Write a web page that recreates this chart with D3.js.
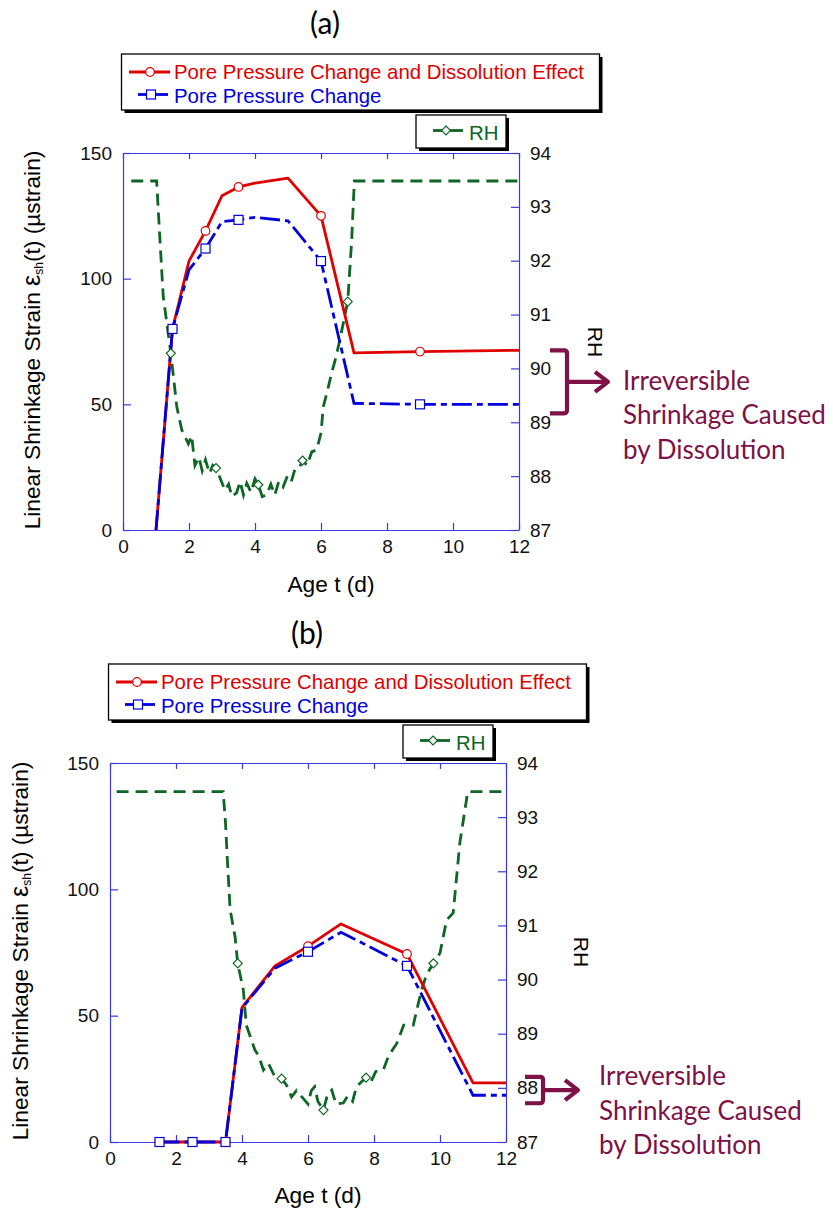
<!DOCTYPE html>
<html>
<head>
<meta charset="utf-8">
<script src="https://cdn.jsdelivr.net/npm/d3@7"></script>
<style>
  body{ margin:0; background:#fff; }
  svg text{ font-family:"Liberation Sans", Arial, sans-serif; }
  .axis path, .axis line{ stroke:#3a3ae0; stroke-width:1.2; }
  .axis text{ fill:#111; font-size:19px; }
  .note{ font-family:Lato, "Open Sans", sans-serif !important; fill:#7e1146; font-size:26px; }
</style>
</head>
<body>
<svg id="chart" width="833" height="1212"></svg>
<script>
// ticks shared by both panels
const ageTicks = [0, 2, 4, 6, 8, 10, 12];
const strainTicks = [0, 50, 100, 150];
const rhTicks = [87, 88, 89, 90, 91, 92, 93, 94];
const seriesNames = ["Pore Pressure Change and Dissolution Effect", "Pore Pressure Change", "RH"];
const noteLines = ["Irreversible", "Shrinkage Caused", "by Dissolution"];

// panel (a)  [age (d), value]
const aDissolution = [[1,0],[1.5,80],[2,107],[2.5,119],[3,133],[3.5,136.5],[4,138],[5,140],[6,125],[7,70.5],[9,71],[12,71.5]];
const aPressure = [[1,0],[1.5,80],[2,103.5],[2.5,112],[3,122.7],[3.5,123.4],[4,124.4],[5,123],[6,107],[7,50.4],[9,50],[12,50]];
const aRH = [[0.25,93.48],[1.02,93.48],[1.12,92.38],[1.22,91.33],[1.37,90.65],[1.45,90.28],[1.63,89.29],[1.78,88.86],[1.98,88.6],
  [2.08,88.75],[2.18,88.2],[2.3,88.35],[2.4,88.1],[2.5,88.3],[2.62,88.05],[2.72,88.2],[2.82,88.15],[2.95,87.95],[3.09,87.74],
  [3.2,87.85],[3.3,87.62],[3.44,87.69],[3.55,87.9],[3.65,87.65],[3.75,87.87],[3.88,87.7],[4.0,87.95],[4.1,87.84],[4.22,87.62],
  [4.35,87.65],[4.48,87.85],[4.6,87.65],[4.72,87.9],[4.85,87.8],[4.98,88.0],[5.1,87.9],[5.22,88.15],[5.36,88.18],[5.44,88.29],
  [5.58,88.2],[5.72,88.45],[5.87,88.49],[6.0,88.8],[6.07,89.29],[6.2,89.6],[6.32,89.91],[6.45,90.2],[6.57,90.53],[6.81,91.24],
  [6.93,92.38],[7.01,93.48],[12,93.48]];
const aDissolutionMarks = [1.5, 2.5, 3.5, 6, 9];
const aPressureMarks = [1.5, 2.5, 3.5, 6, 9];
const aRHMarks = [1.45, 2.82, 4.1, 5.44, 6.81];

// panel (b)
const bDissolution = [[1.5,0],[2.5,0],[3.5,0],[4,53.3],[5,69.7],[6,77.5],[7,86.3],[9,74.4],[11,23.4],[12,23.4]];
const bPressure = [[1.5,0],[2.5,0],[3.5,0],[4,53],[5,68.8],[6,75.3],[7,83],[9,69.7],[11,18.5],[12,18.5]];
const bRH = [[0.2,93.47],[3.43,93.47],[3.5,92.9],[3.54,92.4],[3.64,91.29],[3.79,90.79],[3.87,90.3],[4.04,89.81],[4.13,89.16],
  [4.39,88.7],[4.5,88.6],[4.65,88.33],[4.8,88.45],[5.0,88.2],[5.2,88.17],[5.35,88.05],[5.5,87.83],[5.65,87.95],[5.86,87.8],
  [6.0,87.7],[6.1,87.95],[6.2,88.02],[6.3,87.75],[6.47,87.59],[6.6,87.9],[6.72,87.96],[6.85,87.7],[7.07,87.72],[7.2,87.85],
  [7.35,87.75],[7.47,88.02],[7.6,88.1],[7.76,88.19],[7.9,88.1],[8.05,88.3],[8.28,88.33],[8.45,88.6],[8.69,88.82],[8.9,89.16],
  [9.19,89.16],[9.44,89.81],[9.6,90.1],[9.8,90.3],[10.0,90.49],[10.2,91.1],[10.4,91.23],[10.6,92.52],[10.84,93.47],[12,93.47]];
const bDissolutionMarks = [1.5, 2.5, 3.5, 6, 9];
const bPressureMarks = [1.5, 2.5, 3.5, 6, 9];
const bRHMarks = [3.87, 5.2, 6.47, 7.76, 9.8];

const RED = "#e00000", BLUE = "#0000dd", GREEN = "#0d6623", NOTE = "#7e1146";
const svg = d3.select("#chart");

function marker(g, kind, x, y, color){
  if(kind === "circle") g.append("circle").attr("cx", x).attr("cy", y).attr("r", 4.3);
  else if(kind === "square") g.append("rect").attr("x", x-4.5).attr("y", y-4.5).attr("width", 9).attr("height", 9);
  else g.append("path").attr("d", `M${x},${y-4.5}L${x+4.5},${y}L${x},${y+4.5}L${x-4.5},${y}Z`);
  g.selectAll(":last-child").attr("fill", "#fff").attr("stroke", color).attr("stroke-width", 1.2);
}

function drawPanel(p){
  const x = d3.scaleLinear().domain([0,12]).range([p.x0, p.x1]);
  const yL = d3.scaleLinear().domain([0,150]).range([p.y1, p.y0]);
  const yR = d3.scaleLinear().domain([87,94]).range([p.y1, p.y0]);
  const g = svg.append("g");

  // title
  g.append("text").attr("x", p.titleX).attr("y", p.titleY).attr("text-anchor", "middle")
    .style("font-family", "Lato, 'Open Sans', sans-serif").style("font-size", "30px").text(p.title);

  // legend boxes (with drop shadow)
  const legend = (bx, by, bw, bh) => {
    g.append("rect").attr("x", bx+3).attr("y", by+3).attr("width", bw).attr("height", bh).attr("fill", "#000");
    g.append("rect").attr("x", bx).attr("y", by).attr("width", bw).attr("height", bh)
      .attr("fill", "#fff").attr("stroke", "#000").attr("stroke-width", 1.3);
  };
  legend(p.x0-1.5, p.y0-99, 478, 56);
  legend(p.x0+293, p.y0-38, 90, 33);
  const lg = g.append("g").style("font-size", "20.4px");
  lg.append("line").attr("x1", p.x0+6).attr("x2", p.x0+47).attr("y1", p.y0-81).attr("y2", p.y0-81)
    .attr("stroke", RED).attr("stroke-width", 2.8);
  marker(lg, "circle", p.x0+27, p.y0-81, RED);
  lg.append("text").attr("x", p.x0+51).attr("y", p.y0-74).attr("fill", RED).text(seriesNames[0]);
  lg.append("line").attr("x1", p.x0+15).attr("x2", p.x0+45).attr("y1", p.y0-58.5).attr("y2", p.y0-58.5)
    .attr("stroke", BLUE).attr("stroke-width", 2.8);
  marker(lg, "square", p.x0+28, p.y0-58.5, BLUE);
  lg.append("text").attr("x", p.x0+51).attr("y", p.y0-50.5).attr("fill", BLUE).text(seriesNames[1]);
  lg.append("line").attr("x1", p.x0+310).attr("x2", p.x0+340).attr("y1", p.y0-22.5).attr("y2", p.y0-22.5)
    .attr("stroke", GREEN).attr("stroke-width", 2.8);
  marker(lg, "diamond", p.x0+323, p.y0-22.5, GREEN);
  lg.append("text").attr("x", p.x0+346).attr("y", p.y0-13.5).attr("fill", GREEN).text(seriesNames[2]);

  // axes (inward ticks on all four sides)
  g.append("g").attr("class", "axis").attr("transform", `translate(0,${p.y1})`)
    .call(d3.axisBottom(x).tickValues(ageTicks).tickSize(-7).tickSizeOuter(0).tickPadding(10));
  g.append("g").attr("class", "axis").attr("transform", `translate(0,${p.y0})`)
    .call(d3.axisTop(x).tickValues(ageTicks).tickSize(-6).tickSizeOuter(0).tickFormat(""));
  g.append("g").attr("class", "axis").attr("transform", `translate(${p.x0},0)`)
    .call(d3.axisLeft(yL).tickValues(strainTicks).tickSize(-8).tickSizeOuter(0).tickPadding(11));
  g.append("g").attr("class", "axis").attr("transform", `translate(${p.x1},0)`)
    .call(d3.axisRight(yR).tickValues(rhTicks).tickSize(-8).tickSizeOuter(0).tickPadding(11).tickFormat(d3.format("d")));
  g.selectAll(".axis .domain").attr("stroke", "#3a3ae0");

  // axis titles
  g.append("text").attr("x", p.xLabel[0]).attr("y", p.xLabel[1]).attr("text-anchor", "middle")
    .style("font-size", "22.7px").text("Age t (d)");
  const yt = g.append("text").attr("transform", `translate(${p.yLabel[0]},${p.yLabel[1]}) rotate(-90)`)
    .attr("text-anchor", "middle").attr("dy", "0.35em").style("font-size", "22.7px");
  yt.append("tspan").text("Linear Shrinkage Strain ");
  yt.append("tspan").text("ε").style("font-size", "25px");
  yt.append("tspan").text("sh").style("font-size", "12px").attr("dy", "3");
  yt.append("tspan").text("(t) (µstrain)").attr("dy", "-3");
  g.append("text").attr("transform", `translate(${p.rhLabel[0]},${p.rhLabel[1]}) rotate(90)`)
    .attr("text-anchor", "middle").attr("dy", "0.35em").style("font-size", "21px").text("RH");

  // series
  const lineL = d3.line().x(d => x(d[0])).y(d => yL(d[1]));
  const lineR = d3.line().x(d => x(d[0])).y(d => yR(d[1]));
  g.append("path").datum(p.rh).attr("d", lineR).attr("fill", "none").attr("stroke", GREEN)
    .attr("stroke-width", 2.8).attr("stroke-dasharray", "12,7");
  g.append("path").datum(p.dissolution).attr("d", lineL).attr("fill", "none").attr("stroke", RED)
    .attr("stroke-width", 2.8).attr("stroke-linejoin", "round");
  g.append("path").datum(p.pressure).attr("d", lineL).attr("fill", "none").attr("stroke", BLUE)
    .attr("stroke-width", 2.8).attr("stroke-dasharray", "20,5,6,5");

  const mg = g.append("g");
  p.rhMarks.forEach(t => { const d = p.rh.find(v => v[0] === t); marker(mg, "diamond", x(d[0]), yR(d[1]), GREEN); });
  p.dissolutionMarks.forEach(t => { const d = p.dissolution.find(v => v[0] === t); marker(mg, "circle", x(d[0]), yL(d[1]), RED); });
  p.pressureMarks.forEach(t => { const d = p.pressure.find(v => v[0] === t); marker(mg, "square", x(d[0]), yL(d[1]), BLUE); });

  // annotation bracket + arrow, anchored on the end values of both curves
  const top = yL(p.dissolution[p.dissolution.length-1][1]) - p.bracketPad[0];
  const bot = yL(p.pressure[p.pressure.length-1][1]) + p.bracketPad[1];
  const mid = (top + bot) / 2;
  const bl = p.x1 + p.bracketX[0], br = p.x1 + p.bracketX[1], tip = p.x1 + p.bracketX[2];
  const ag = g.append("g").attr("fill", "none").attr("stroke", NOTE).attr("stroke-width", 4.2)
    .attr("stroke-linejoin", "round");
  ag.append("path").attr("d", `M${bl},${top}L${br-3},${top}Q${br},${top} ${br},${top+3}L${br},${bot-3}Q${br},${bot} ${br-3},${bot}L${bl},${bot}`);
  ag.append("path").attr("d", `M${br},${mid}L${tip-2},${mid}`);
  ag.append("path").attr("d", `M${tip-13},${mid-10}L${tip},${mid}L${tip-13},${mid+10}`);
  noteLines.forEach((s, i) => {
    g.append("text").attr("class", "note").attr("x", p.x1 + p.noteX).attr("y", mid + p.noteDy + i*34.5).text(s);
  });
}

drawPanel({
  title: "(a)", titleX: 325, titleY: 34,
  x0: 123, x1: 519, y0: 153, y1: 530,
  xLabel: [331, 592], yLabel: [32, 340], rhLabel: [595, 342],
  dissolution: aDissolution, pressure: aPressure, rh: aRH,
  dissolutionMarks: aDissolutionMarks, pressureMarks: aPressureMarks, rhMarks: aRHMarks,
  bracketPad: [0, 9], bracketX: [31, 48, 89], noteX: 104, noteDy: 8
});
drawPanel({
  title: "(b)", titleX: 307, titleY: 644,
  x0: 110, x1: 506, y0: 763, y1: 1142,
  xLabel: [318, 1203], yLabel: [20, 951], rhLabel: [581, 952],
  dissolution: bDissolution, pressure: bPressure, rh: bRH,
  dissolutionMarks: bDissolutionMarks, pressureMarks: bPressureMarks, rhMarks: bRHMarks,
  bracketPad: [6, 8], bracketX: [19, 37, 72], noteX: 93, noteDy: -5
});
</script>
</body>
</html>
